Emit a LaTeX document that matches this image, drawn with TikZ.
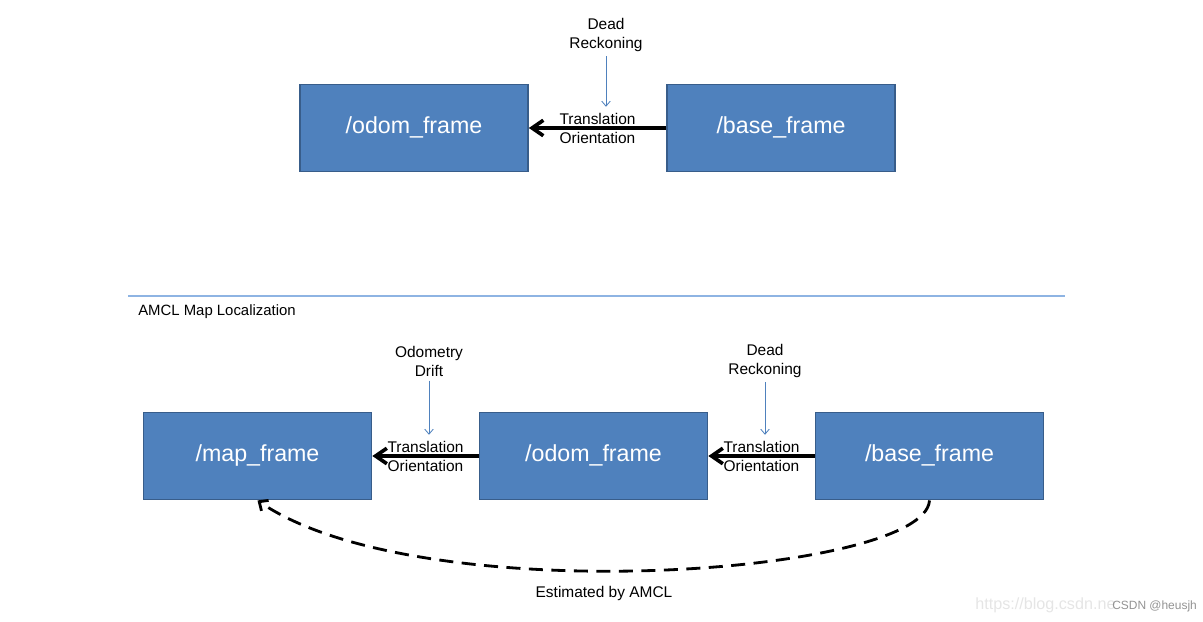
\documentclass[tikz,border=0pt]{standalone}
\usepackage{fontspec}
\setmainfont{Liberation Sans}
\usetikzlibrary{arrows.meta}
\definecolor{framefill}{HTML}{4F81BD}
\definecolor{frameedge}{HTML}{385D8A}
\definecolor{ruleblue}{HTML}{8EB4E3}

\begin{document}
\begin{tikzpicture}[x=0.025cm, y=-0.025cm,
    frame/.style={draw=frameedge, line width=1.2pt, fill=framefill, text=white,
        minimum width=5.7cm, minimum height=2.18cm, inner sep=0pt,
        text height=0.75em, text depth=0pt,
        font=\fontsize{16.5}{20}\selectfont},
    note/.style={align=center, inner sep=0pt, font=\fontsize{11}{13.5}\selectfont},
    tf/.style={-{Straight Barb[length=8pt,width=11pt]}, line width=2.6pt},
    hint/.style={-{Straight Barb[length=3.5pt,width=6pt]}, draw=framefill,
        line width=0.6pt, shorten <=3pt, shorten >=3pt},
    est/.style={-{Straight Barb[length=5pt,width=9pt]}, line width=2pt,
        dash pattern=on 10pt off 6pt}]
    \useasboundingbox (0,0) rectangle (1203,622);

    \node [frame] (odomA) at (414,128) {/odom\_frame};
    \node [frame] (baseA) at (781,128) {/base\_frame};
    \draw [tf] (baseA) -- (odomA) node [midway, note] (tlA) {Translation\\Orientation};
    \node [note] (deadA) at (606,35) {Dead\\Reckoning};
    \draw [hint] (deadA.south) -- (deadA.south |- tlA.north);

    \draw [ruleblue, line width=0.9pt] (128,296) coordinate (ruleL) -- (1065,296) coordinate (ruleR);
    \node [anchor=base west, inner sep=0pt, font=\fontsize{10.6}{13}\selectfont] (amcl) at (138,316) {AMCL Map Localization};

    \node [frame] (mapB) at (257.5,456) {/map\_frame};
    \node [frame] (odomB) at (593.5,456) {/odom\_frame};
    \node [frame] (baseB) at (929.5,456) {/base\_frame};
    \draw [tf] (odomB) -- (mapB) node [midway, note] (tlB) {Translation\\Orientation};
    \draw [tf] (baseB) -- (odomB) node [midway, note] (tlC) {Translation\\Orientation};
    \node [note] (driftB) at (429,361) {Odometry\\Drift};
    \draw [hint] (driftB.south) -- (driftB.south |- tlB.north);
    \node [note] (deadB) at (765,361) {Dead\\Reckoning};
    \draw [hint] (deadB.south) -- (deadB.south |- tlC.north);

    \draw [est] (baseB.south) .. controls (925,575) and (420,612) .. (mapB.south);
    \node [note, anchor=base] (estB) at (604,597) {Estimated by AMCL};

    \node [anchor=base west, inner sep=0pt, text=gray!20, font=\fontsize{11.5}{14}\selectfont] (url) at (975,609) {https://blog.csdn.ne};
    \node [anchor=base west, inner sep=0pt, text=gray!85, font=\fontsize{8.5}{10}\selectfont] (mark) at (1112,609) {CSDN @heusjh};
\end{tikzpicture}
\end{document}
